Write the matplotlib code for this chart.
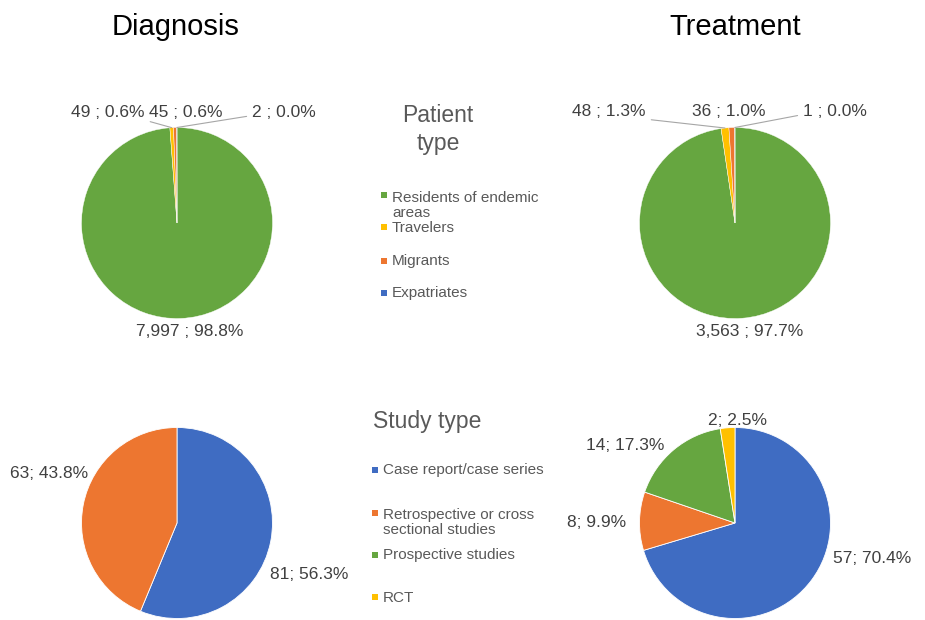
import matplotlib
matplotlib.use("Agg")
import matplotlib.pyplot as plt
from matplotlib.patches import Rectangle
import numpy as np

# ---- data ----
patient_types = ["Residents of endemic\nareas", "Travelers", "Migrants", "Expatriates"]
patient_diagnosis = [7997, 49, 45, 2]
patient_treatment = [3563, 48, 36, 1]

study_types = ["Case report/case series", "Retrospective or cross\nsectional studies",
               "Prospective studies", "RCT"]
study_diagnosis = [81, 63]
study_treatment = [57, 8, 14, 2]

panel_titles = ["Diagnosis", "Treatment"]
legend_titles = ["Patient\ntype", "Study type"]

# ---- style ----
GREEN, YELLOW, ORANGE, BLUE = "#66A640", "#FFC000", "#ED7630", "#3F6CC2"
patient_colors = [GREEN, YELLOW, ORANGE, BLUE]
study_colors = [BLUE, ORANGE, GREEN, YELLOW]
FONT = "Liberation Sans"
LABEL_C = "#404040"
LEGEND_C = "#595959"
LEADER_C = "#A6A6A6"

W, H = 925, 620
plt.rcParams["font.family"] = [FONT, "DejaVu Sans"]
fig = plt.figure(figsize=(W / 100, H / 100), dpi=100)
fig.patch.set_facecolor("white")


def fx(x):
    return x / W


def fy(y):
    return 1 - y / H


def share(v, total):
    # percentage rounded half-up, as shown in the labels
    return 100.0 * v / total + 1e-9


def draw_pie(cx, cy, r, values, colors, fmt, label_pos, leaders, edge_lw):
    ax = fig.add_axes([fx(cx - r), fy(cy + r), 2 * r / W, 2 * r / H])
    wedges, _ = ax.pie(values, colors=colors, startangle=90, counterclock=False,
                       radius=1, wedgeprops=dict(edgecolor="white", linewidth=edge_lw))
    ax.set_xlim(-1, 1)
    ax.set_ylim(-1, 1)
    ax.set_axis_off()
    for w in wedges:
        w.set_clip_on(False)
    total = sum(values)
    for w, v, (lx, ly), rel in zip(wedges, values, label_pos, leaders):
        txt = fmt(v, share(v, total))
        mid = np.deg2rad((w.theta1 + w.theta2) / 2)
        xy = (w.r * np.cos(mid), w.r * np.sin(mid))
        kw = dict(xy=xy, xycoords="data", xytext=(lx, H - ly),
                  textcoords="figure pixels", ha="center", va="baseline",
                  fontsize=12.5, color=LABEL_C, annotation_clip=False)
        if rel is not None:
            kw["arrowprops"] = dict(arrowstyle="-", color=LEADER_C, lw=0.8,
                                    relpos=rel, shrinkA=2, shrinkB=0)
        ax.annotate(txt, **kw)
    return ax


def patient_fmt(v, p):
    return f"{v:,} ; {p:.1f}%"


def study_fmt(v, p):
    return f"{v}; {p:.1f}%"


R = 95.5
# Patient type pies
draw_pie(177, 223, R, patient_diagnosis, patient_colors, patient_fmt,
         [(190, 336), (108, 117), (186, 117), (284, 117)],
         [None, (0.92, 0.1), None, (0.0, 0.3)], 0.3)
draw_pie(735, 223, R, patient_treatment, patient_colors, patient_fmt,
         [(750, 336), (609, 116), (729, 116), (835, 116)],
         [None, (0.8, 0.1), None, (0.0, 0.3)], 0.3)
# Study type pies
draw_pie(177, 523, R, study_diagnosis, study_colors[:len(study_diagnosis)], study_fmt,
         [(309, 579), (49, 478)], [None, None], 0.6)
draw_pie(735, 523, R, study_treatment, study_colors, study_fmt,
         [(872, 563), (597, 527), (625, 450), (737, 425)],
         [None, None, None, None], 0.6)

# Column titles
for title, x in zip(panel_titles, [176, 735]):
    fig.text(fx(x), fy(35), title, ha="center", va="baseline",
             fontsize=21, color="black")

# Legend titles
fig.text(fx(438), fy(104), legend_titles[0], ha="center", va="top",
         fontsize=16.5, color=LEGEND_C, linespacing=1.28)
fig.text(fx(373), fy(428), legend_titles[1], ha="left", va="baseline",
         fontsize=16.5, color=LEGEND_C)


def draw_legend(labels, colors, mx, text_x, marker_y, baselines, gap):
    s = 6
    for lab, col, my, by in zip(labels, colors, marker_y, baselines):
        fig.add_artist(Rectangle((fx(mx - s / 2), fy(my + s / 2)), s / W, s / H,
                                 transform=fig.transFigure, facecolor=col,
                                 edgecolor="none"))
        # multi-line text anchors on the baseline of its last line
        last = by + gap * lab.count("\n")
        fig.text(fx(text_x), fy(last), lab, ha="left", va="baseline",
                 fontsize=11, color=LEGEND_C, linespacing=1.12)


draw_legend(patient_types, patient_colors, 384, 392,
            [195, 227, 261, 293], [200, 232, 265, 297], 17)
draw_legend(study_types, study_colors, 375, 383,
            [470, 513, 555, 597], [474, 517, 559, 602], 17)

fig.savefig("out.png", dpi=100, facecolor="white")
